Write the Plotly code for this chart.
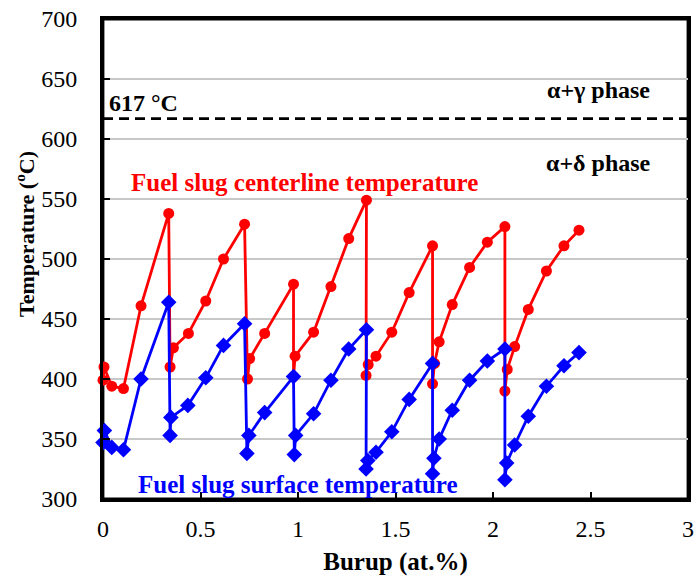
import plotly.graph_objects as go

# Fuel slug centerline temperature (red)
center_x = [0.0, 0.005, 0.045, 0.105, 0.195, 0.337, 0.344, 0.361, 0.438, 0.527, 0.618, 0.726,
            0.741, 0.752, 0.829, 0.977, 0.977, 0.985, 1.08, 1.169, 1.26, 1.351,
            1.349, 1.36, 1.40, 1.481, 1.570, 1.69, 1.69, 1.70, 1.724, 1.791, 1.88, 1.971, 2.061,
            2.061, 2.073, 2.111, 2.181, 2.274, 2.364, 2.441]
center_t = [399, 410, 394, 392, 461, 538, 410, 426, 438, 465, 500, 529,
            400, 417, 438, 479, 402, 419, 439, 477, 517, 549,
            403, 412, 419, 439, 472, 511, 396, 413, 431, 462, 493, 514, 527,
            390, 408, 427, 458, 490, 511, 524]

# Fuel slug surface temperature (blue)
surf_x = [0.0, 0.007, 0.045, 0.105, 0.195, 0.337, 0.344, 0.348, 0.435, 0.527, 0.618, 0.726,
          0.738, 0.748, 0.829, 0.977, 0.981, 0.988, 1.08, 1.169, 1.26, 1.351,
          1.349, 1.358, 1.40, 1.481, 1.570, 1.69, 1.69, 1.697, 1.724, 1.791, 1.88, 1.971, 2.061,
          2.061, 2.07, 2.111, 2.181, 2.274, 2.364, 2.441]
surf_t = [347, 357, 343, 341, 400, 464, 353, 368, 378, 401, 428, 446,
          338, 353, 372, 402, 337, 353, 371, 399, 425, 441,
          325, 332, 339, 356, 383, 413, 321, 334, 350, 374, 399, 415, 425,
          316, 330, 345, 369, 394, 411, 422]

phase_limit = 617
x_ticks = [0, 0.5, 1, 1.5, 2, 2.5, 3]
y_ticks = [300, 350, 400, 450, 500, 550, 600, 650, 700]

font = "Liberation Serif, Times New Roman, serif"

fig = go.Figure()
fig.add_trace(go.Scatter(x=[0, 3], y=[phase_limit, phase_limit], mode="lines",
                         line=dict(color="black", width=2.8, dash="10px,6px"),
                         showlegend=False, hoverinfo="skip"))
fig.add_trace(go.Scatter(x=center_x, y=center_t, mode="lines+markers", cliponaxis=False,
                         line=dict(color="#ff0000", width=2.8),
                         marker=dict(symbol="circle", size=11, color="#ff0000"),
                         showlegend=False))
fig.add_trace(go.Scatter(x=surf_x, y=surf_t, mode="lines+markers", cliponaxis=False,
                         line=dict(color="#0000ff", width=2.8),
                         marker=dict(symbol="diamond", size=12, color="#0000ff"),
                         showlegend=False))

ann_font = dict(family=font, size=24, color="black")
annotations = [
    dict(x=0.02, y=630, text="<b>617 °C</b>", xanchor="left", yanchor="middle",
         font=ann_font, showarrow=False),
    dict(x=2.54, y=641, text="<b>α+γ phase</b>", xanchor="center", yanchor="middle",
         font=ann_font, showarrow=False),
    dict(x=2.54, y=580, text="<b>α+δ phase</b>", xanchor="center", yanchor="middle",
         font=ann_font, showarrow=False),
    dict(x=1.032, y=564, text="<b>Fuel slug centerline temperature</b>", xanchor="center",
         yanchor="middle", font=dict(family=font, size=25, color="#ff0000"), showarrow=False),
    dict(x=0.998, y=312, text="<b>Fuel slug surface temperature</b>", xanchor="center",
         yanchor="middle", font=dict(family=font, size=25, color="#0000ff"), showarrow=False),
    # y-axis title (placed slightly above centre, as in the reference)
    dict(xref="paper", yref="paper", x=-0.1336, y=0.552, textangle=-90,
         text="<b>Temperature (<sup>o</sup>C)</b>", xanchor="center", yanchor="middle",
         font=dict(family=font, size=22, color="black"), showarrow=False),
]

fig.update_layout(
    width=695, height=579,
    margin=dict(l=103, r=7, t=19, b=80),
    paper_bgcolor="white", plot_bgcolor="white",
    font=dict(family=font, size=24, color="black"),
    annotations=annotations,
    shapes=[dict(type="rect", xref="paper", yref="paper", x0=0, x1=1, y0=0, y1=1,
                 line=dict(color="black", width=2.8), layer="below")],
    xaxis=dict(range=[0, 3], tickvals=x_ticks, ticktext=[str(v) for v in x_ticks],
               ticks="inside", ticklen=7, tickwidth=2, tickcolor="black",
               showline=True, linewidth=2.8, linecolor="black", mirror=True,
               showgrid=False, zeroline=False, ticklabelstandoff=6, automargin=False,
               title=dict(text="<b>Burup (at.%)</b>", font=dict(size=25), standoff=12)),
    yaxis=dict(range=[300, 700], tickvals=y_ticks,
               ticks="inside", ticklen=7, tickwidth=2, tickcolor="black",
               showline=True, linewidth=2.8, linecolor="black", mirror=True,
               showgrid=True, gridcolor="#c8c8c8", gridwidth=1.5, zeroline=False,
               ticklabelstandoff=18, automargin=False),
)

# remove the browser's default 8px body margin so the figure fills the window
fig.write_html("out.html", config={"displayModeBar": False},
               post_script="document.body.style.margin='0px';")
